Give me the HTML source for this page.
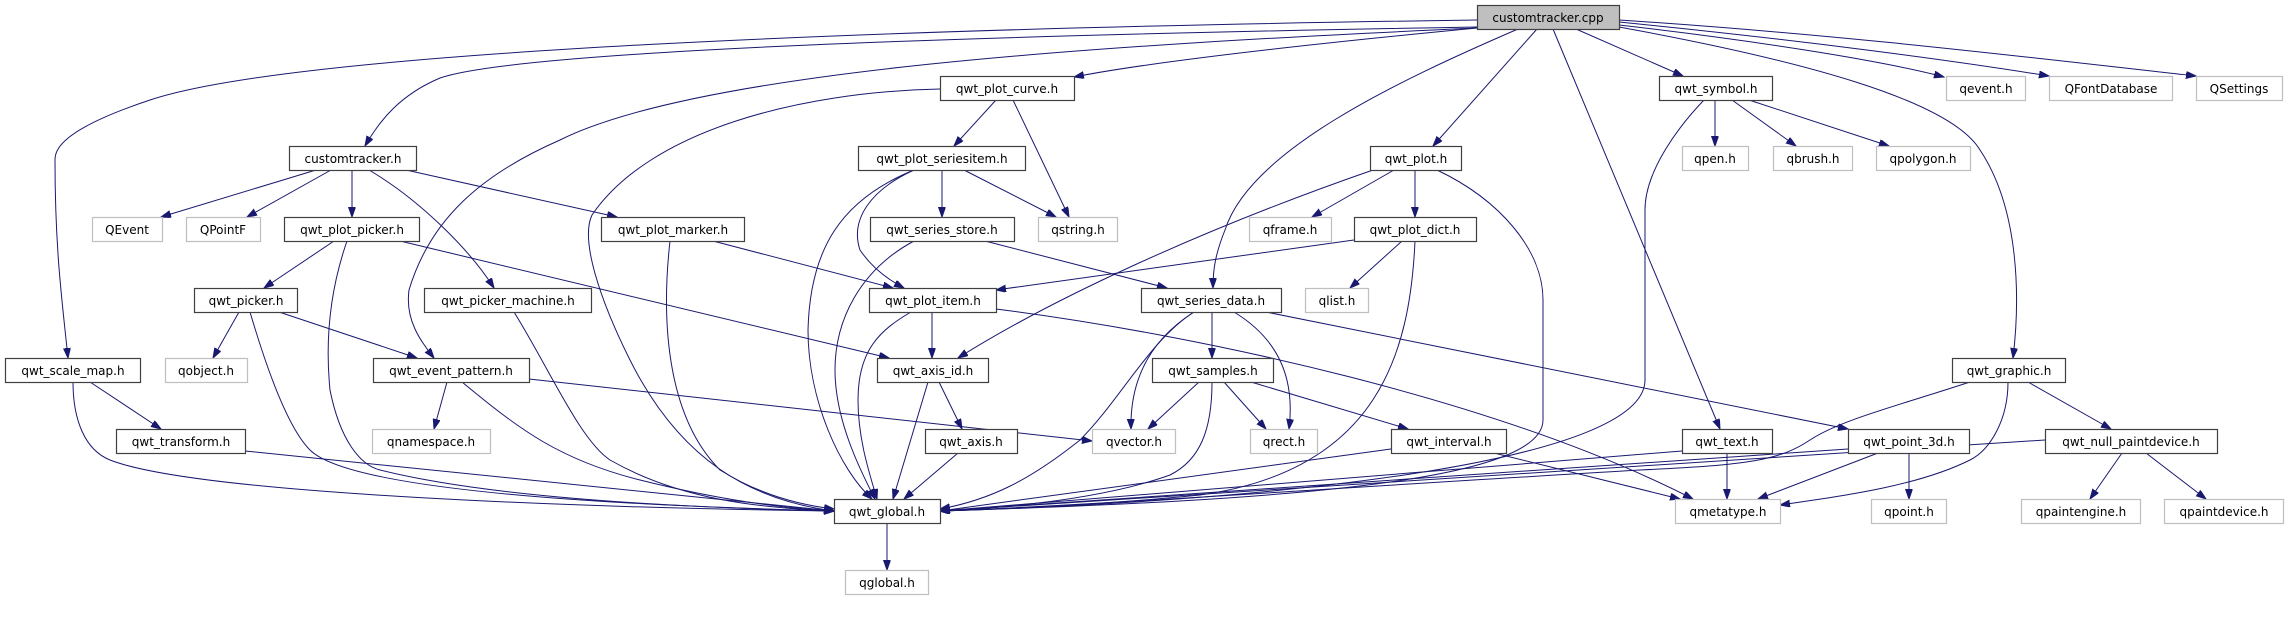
<!DOCTYPE html>
<html><head><meta charset="utf-8"><style>
html,body{margin:0;padding:0;background:#fff;}
svg{display:block;}
text{font-family:"DejaVu Sans","Liberation Sans",sans-serif;font-size:12px;fill:#000;text-anchor:middle;}
.n{fill:#fff;stroke:#404040;stroke-width:1.2;}
.g{fill:#fff;stroke:#bfbfbf;stroke-width:1.2;}
.r{fill:#bfbfbf;stroke:#404040;stroke-width:1.2;}
path.e{fill:none;stroke:#191970;stroke-width:1;marker-end:url(#a);}
</style></head><body>
<svg width="2288" height="635" viewBox="0 0 2288 635" xmlns="http://www.w3.org/2000/svg">
<defs><marker id="a" markerUnits="userSpaceOnUse" markerWidth="11" markerHeight="8" refX="10" refY="3.5" orient="auto"><path d="M0,0 L10,3.5 L0,7 z" fill="#191970" stroke="#191970"/></marker></defs>
<g>
<!-- cpp edges -->
<path class="e" d="M1477,27 C1000,35 520,50 440,78 C400,95 380,120 365,146"/>
<path class="e" d="M1477,20 C900,28 300,50 150,100 C60,130 55,150 55,160 C55,250 62,300 68,358"/>
<path class="e" d="M1477,28 C1100,45 700,70 560,140 C480,175 430,220 409,290 C405,320 420,340 434,358"/>
<path class="e" d="M1477,28 C1300,45 1150,62 1074,77"/>
<path class="e" d="M1518,29 C1400,80 1250,150 1225,230 C1215,255 1213,270 1213,288"/>
<path class="e" d="M1537,29 L1433,146"/>
<path class="e" d="M1553,29 L1720,429"/>
<path class="e" d="M1576,29 L1683,76"/>
<path class="e" d="M1619,25 C1750,40 1880,60 1944,77"/>
<path class="e" d="M1619,22 C1800,40 1950,60 2049,76"/>
<path class="e" d="M1619,20 C1850,35 2050,60 2196,76"/>
<path class="e" d="M1619,27 C1800,60 1950,100 1980,150 C2020,210 2020,300 2013,358"/>
<!-- customtracker.h -->
<path class="e" d="M316,170 L161,217"/>
<path class="e" d="M331,170 L247,217"/>
<path class="e" d="M352,170 L352,217"/>
<path class="e" d="M369,170 C420,200 470,250 494,288"/>
<path class="e" d="M406,170 L617,217"/>
<!-- qwt_plot_picker.h -->
<path class="e" d="M334,241 L264,288"/>
<path class="e" d="M347,241 C330,290 325,340 330,390 C340,440 360,465 380,470 C500,500 700,508 834,511"/>
<path class="e" d="M400,241 L889,358"/>
<!-- qwt_picker.h -->
<path class="e" d="M239,312 L213,358"/>
<path class="e" d="M279,312 L417,358"/>
<path class="e" d="M250,312 C270,380 290,430 310,450 C350,490 600,505 834,511"/>
<!-- picker_machine -->
<path class="e" d="M514,312 C550,370 580,440 610,460 C680,500 760,508 834,511"/>
<!-- scale_map -->
<path class="e" d="M90,382 L161,429"/>
<path class="e" d="M73,382 C73,420 85,450 110,460 C200,495 600,508 834,511"/>
<!-- event_pattern -->
<path class="e" d="M447,382 L434,429"/>
<path class="e" d="M529,379 L1092,441"/>
<path class="e" d="M462,382 C520,430 560,460 640,480 C720,500 780,508 834,511"/>
<path class="e" d="M245,451 L834,511"/>
<!-- plot_curve -->
<path class="e" d="M940,89 C800,92 650,130 592,215 C580,240 600,300 630,360 C680,460 750,500 834,511"/>
<path class="e" d="M996,100 L954,146"/>
<path class="e" d="M1013,100 L1069,217"/>
<!-- seriesitem -->
<path class="e" d="M942,170 L942,217"/>
<path class="e" d="M964,170 L1056,217"/>
<path class="e" d="M914,170 C870,190 850,220 860,250 C870,265 885,278 904,288"/>
<path class="e" d="M914,170 C840,200 810,250 808,330 C808,400 840,470 872,499"/>
<!-- marker -->
<path class="e" d="M713,241 L893,288"/>
<path class="e" d="M670,241 C660,330 670,420 720,470 C760,495 800,505 834,509"/>
<!-- series_store -->
<path class="e" d="M985,241 L1167,288"/>
<path class="e" d="M914,241 C860,270 835,320 835,370 C835,420 860,470 875,499"/>
<!-- plot_item -->
<path class="e" d="M932,312 L932,358"/>
<path class="e" d="M911,312 C880,330 858,350 858,400 C858,440 870,475 877,499"/>
<path class="e" d="M996,309 C1200,335 1500,400 1693,499"/>
<!-- axis_id -->
<path class="e" d="M928,382 L893,499"/>
<path class="e" d="M939,382 L962,429"/>
<path class="e" d="M958,453 L904,499"/>
<!-- qwt_plot -->
<path class="e" d="M1373,170 C1200,230 1050,300 958,358"/>
<path class="e" d="M1394,170 L1312,217"/>
<path class="e" d="M1415,170 L1415,217"/>
<path class="e" d="M1437,170 C1500,200 1543,250 1543,300 L1543,420 C1543,480 1300,500 940,511"/>
<!-- plot_dict -->
<path class="e" d="M1354,240 L996,290"/>
<path class="e" d="M1402,241 L1350,288"/>
<path class="e" d="M1415,241 C1410,350 1380,470 1200,495 C1100,505 1000,509 940,511"/>
<!-- series_data -->
<path class="e" d="M1212,312 L1212,358"/>
<path class="e" d="M1234,312 C1280,340 1295,380 1289,429"/>
<path class="e" d="M1194,312 C1150,340 1130,380 1131,429"/>
<path class="e" d="M1194,312 C1150,340 1120,400 1080,440 C1030,480 990,500 940,509"/>
<path class="e" d="M1266,312 L1848,429"/>
<!-- samples -->
<path class="e" d="M1199,382 L1148,429"/>
<path class="e" d="M1224,382 L1266,429"/>
<path class="e" d="M1251,382 L1408,429"/>
<path class="e" d="M1212,382 C1212,430 1200,460 1170,475 C1100,500 1000,508 940,511"/>
<!-- interval -->
<path class="e" d="M1391,449 L940,511"/>
<path class="e" d="M1494,453 L1680,499"/>
<!-- symbol -->
<path class="e" d="M1715,100 L1715,146"/>
<path class="e" d="M1732,100 L1796,146"/>
<path class="e" d="M1749,100 L1889,146"/>
<path class="e" d="M1704,100 C1680,125 1645,170 1645,210 L1645,380 C1645,460 1300,500 940,511"/>
<!-- text -->
<path class="e" d="M1682,451 L940,511"/>
<path class="e" d="M1727,453 L1727,499"/>
<!-- point_3d -->
<path class="e" d="M1848,449 L940,511"/>
<path class="e" d="M1878,453 L1758,499"/>
<path class="e" d="M1909,453 L1909,499"/>
<!-- graphic -->
<path class="e" d="M1970,382 C1900,405 1840,420 1810,440 C1780,460 1750,465 1640,470 C1300,490 1100,505 940,511"/>
<path class="e" d="M2008,382 C2008,420 1990,450 1970,460 C1920,485 1850,495 1780,505"/>
<path class="e" d="M2028,382 L2111,429"/>
<!-- null paintdevice -->
<path class="e" d="M2045,440 L940,511"/>
<path class="e" d="M2122,453 L2090,499"/>
<path class="e" d="M2146,453 L2206,499"/>
<!-- global -->
<path class="e" d="M887,523 L887,570"/>
</g>
<g>
<rect class="r" x="1477.5" y="5.5" width="142" height="24"/><text x="1548" y="22">customtracker.cpp</text>
<rect class="n" x="940.5" y="76.5" width="134" height="24"/><text x="1007" y="93">qwt_plot_curve.h</text>
<rect class="n" x="1659.5" y="76.5" width="113" height="24"/><text x="1716" y="93">qwt_symbol.h</text>
<rect class="g" x="1946.5" y="76.5" width="79" height="24"/><text x="1986" y="93">qevent.h</text>
<rect class="g" x="2049.5" y="76.5" width="123" height="24"/><text x="2111" y="93">QFontDatabase</text>
<rect class="g" x="2196.5" y="76.5" width="86" height="24"/><text x="2239" y="93">QSettings</text>

<rect class="n" x="289.5" y="146.5" width="127" height="24"/><text x="353" y="163">customtracker.h</text>
<rect class="n" x="858.5" y="146.5" width="167" height="24"/><text x="942" y="163">qwt_plot_seriesitem.h</text>
<rect class="n" x="1370.5" y="146.5" width="91" height="24"/><text x="1416" y="163">qwt_plot.h</text>
<rect class="g" x="1682.5" y="146.5" width="66" height="24"/><text x="1715" y="163">qpen.h</text>
<rect class="g" x="1773.5" y="146.5" width="79" height="24"/><text x="1813" y="163">qbrush.h</text>
<rect class="g" x="1876.5" y="146.5" width="94" height="24"/><text x="1923" y="163">qpolygon.h</text>

<rect class="g" x="92.5" y="217.5" width="70" height="24"/><text x="127" y="234">QEvent</text>
<rect class="g" x="186.5" y="217.5" width="74" height="24"/><text x="223" y="234">QPointF</text>
<rect class="n" x="284.5" y="217.5" width="135" height="24"/><text x="352" y="234">qwt_plot_picker.h</text>
<rect class="n" x="601.5" y="217.5" width="143" height="24"/><text x="673" y="234">qwt_plot_marker.h</text>
<rect class="n" x="870.5" y="217.5" width="144" height="24"/><text x="942" y="234">qwt_series_store.h</text>
<rect class="g" x="1038.5" y="217.5" width="79" height="24"/><text x="1078" y="234">qstring.h</text>
<rect class="g" x="1249.5" y="217.5" width="82" height="24"/><text x="1290" y="234">qframe.h</text>
<rect class="n" x="1354.5" y="217.5" width="122" height="24"/><text x="1415" y="234">qwt_plot_dict.h</text>

<rect class="n" x="194.5" y="288.5" width="103" height="24"/><text x="246" y="305">qwt_picker.h</text>
<rect class="n" x="424.5" y="288.5" width="167" height="24"/><text x="508" y="305">qwt_picker_machine.h</text>
<rect class="n" x="869.5" y="288.5" width="127" height="24"/><text x="933" y="305">qwt_plot_item.h</text>
<rect class="n" x="1141.5" y="288.5" width="140" height="24"/><text x="1211" y="305">qwt_series_data.h</text>
<rect class="g" x="1305.5" y="288.5" width="63" height="24"/><text x="1337" y="305">qlist.h</text>

<rect class="n" x="5.5" y="358.5" width="135" height="24"/><text x="73" y="375">qwt_scale_map.h</text>
<rect class="g" x="165.5" y="358.5" width="82" height="24"/><text x="206" y="375">qobject.h</text>
<rect class="n" x="373.5" y="358.5" width="156" height="24"/><text x="451" y="375">qwt_event_pattern.h</text>
<rect class="n" x="877.5" y="358.5" width="111" height="24"/><text x="933" y="375">qwt_axis_id.h</text>
<rect class="n" x="1152.5" y="358.5" width="121" height="24"/><text x="1213" y="375">qwt_samples.h</text>
<rect class="n" x="1952.5" y="358.5" width="113" height="24"/><text x="2009" y="375">qwt_graphic.h</text>

<rect class="n" x="116.5" y="429.5" width="129" height="24"/><text x="181" y="446">qwt_transform.h</text>
<rect class="g" x="372.5" y="429.5" width="118" height="24"/><text x="431" y="446">qnamespace.h</text>
<rect class="n" x="925.5" y="429.5" width="92" height="24"/><text x="971" y="446">qwt_axis.h</text>
<rect class="g" x="1092.5" y="429.5" width="83" height="24"/><text x="1134" y="446">qvector.h</text>
<rect class="g" x="1250.5" y="429.5" width="67" height="24"/><text x="1284" y="446">qrect.h</text>
<rect class="n" x="1391.5" y="429.5" width="115" height="24"/><text x="1449" y="446">qwt_interval.h</text>
<rect class="n" x="1682.5" y="429.5" width="90" height="24"/><text x="1727" y="446">qwt_text.h</text>
<rect class="n" x="1848.5" y="429.5" width="121" height="24"/><text x="1909" y="446">qwt_point_3d.h</text>
<rect class="n" x="2045.5" y="429.5" width="172" height="24"/><text x="2131" y="446">qwt_null_paintdevice.h</text>

<rect class="n" x="834.5" y="499.5" width="106" height="24"/><text x="887" y="516">qwt_global.h</text>
<rect class="g" x="1675.5" y="499.5" width="105" height="24"/><text x="1728" y="516">qmetatype.h</text>
<rect class="g" x="1871.5" y="499.5" width="75" height="24"/><text x="1909" y="516">qpoint.h</text>
<rect class="g" x="2021.5" y="499.5" width="119" height="24"/><text x="2081" y="516">qpaintengine.h</text>
<rect class="g" x="2164.5" y="499.5" width="119" height="24"/><text x="2224" y="516">qpaintdevice.h</text>

<rect class="g" x="845.5" y="570.5" width="83" height="24"/><text x="887" y="587">qglobal.h</text>
</g>
</svg>
</body></html>
